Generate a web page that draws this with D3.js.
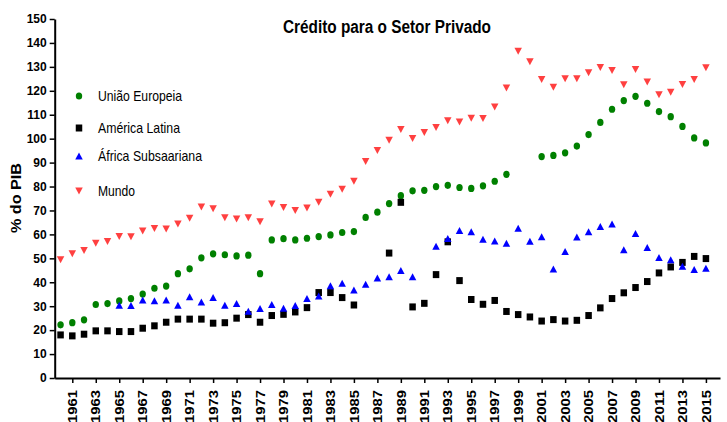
<!DOCTYPE html>
<html>
<head>
<meta charset="utf-8">
<script src="https://cdn.jsdelivr.net/npm/d3@7"></script>
<style>
  body { margin: 0; background: #fff; }
  svg { display: block; }
  .tick text { font-family: "Liberation Sans", Arial, sans-serif; font-weight: bold; fill: #000; }
  .narrow { font-family: "Liberation Sans Narrow", "Arial Narrow", "Liberation Sans", sans-serif; }
</style>
</head>
<body>
<div id="chart"></div>
<script>
//--------------------------------- Data ---------------------------------
// anos 1960..2015, null = sem dado
var years = d3.range(1960, 2016);

var uniaoEuropeia = [
	22.2, 23.1, 24.3, 30.7, 31.1, 32.2, 33.2, 35.1, 37.5, 38.4,
	43.6, 45.6, 50.2, 51.9, 51.5, 51.0, 51.3, 43.6, 57.7, 58.2,
	57.7, 58.4, 59.1, 59.8, 60.8, 61.2, 67.1, 69.3, 72.9, 76.2,
	78.2, 78.4, 80.0, 80.5, 79.6, 79.2, 80.3, 82.2, 85.1, null,
	null, 92.5, 93.0, 94.1, 96.9, 101.7, 106.8, 112.3, 115.9, 117.7,
	114.8, 111.3, 109.2, 105.1, 100.3, 98.2
];
var americaLatina = [
	18.0, 17.6, 18.3, 19.7, 19.7, 19.4, 19.4, 20.8, 21.8, 23.3,
	24.6, 24.6, 24.6, 22.9, 23.1, 25.0, 26.5, 23.3, 26.1, 26.6,
	27.6, 29.4, 35.7, 35.7, 33.6, 30.5, null, null, 52.2, 73.4,
	29.7, 31.2, 43.2, 56.9, 40.7, 32.8, 30.8, 32.4, 27.8, 26.5,
	25.5, 23.8, 24.4, 23.8, 24.1, 26.1, 29.3, 33.2, 35.6, 37.8,
	40.3, 43.9, 46.4, 48.3, 50.8, 49.9
];
var africaSubsaariana = [
	null, null, null, null, null, 30.4, 30.3, 32.6, 32.3, 32.6,
	30.4, 34.0, 31.8, 33.6, 30.4, 31.1, 27.9, 29.0, 30.7, 29.1,
	30.3, 33.2, 34.3, 38.5, 39.6, 36.8, 39.2, 41.8, 42.3, 44.9,
	42.3, null, 55.1, 58.3, 61.6, 61.1, 58.0, 57.2, 56.3, 62.6,
	57.1, 59.0, 45.5, 52.9, 58.9, 61.1, 63.3, 64.3, 53.6, 60.4,
	54.5, 50.3, 49.4, 46.7, 45.3, 45.9
];
var mundo = [
	49.4, 51.9, 53.3, 56.3, 57.0, 59.1, 59.0, 61.4, 62.5, 62.3,
	64.3, 66.8, 71.4, 70.7, 67.0, 66.4, 67.0, 65.3, 72.7, 71.2,
	70.0, 71.0, 73.4, 76.8, 78.9, 82.2, 90.5, 95.1, 99.3, 103.8,
	100.1, 102.6, 104.7, 107.5, 107.0, 108.5, 108.4, 113.2, 121.2, 136.5,
	132.1, 124.7, 121.5, 125.0, 125.0, 127.5, 129.7, 128.5, 122.5, 128.9,
	123.7, 118.4, 119.4, 122.6, 124.7, 129.6
];

var seriesNames = ["União Europeia", "América Latina", "África Subsaariana", "Mundo"];
var seriesValues = [uniaoEuropeia, americaLatina, africaSubsaariana, mundo];
var yTicks = d3.range(0, 151, 10);
var xTicks = d3.range(1961, 2016, 2);

//--------------------------------- Setup ---------------------------------
var width = 727, height = 422;

var svg = d3.select("#chart")
	.append("svg")
	.attr("width", width)
	.attr("height", height);

var x = d3.scaleLinear()
	.domain([1959.5, 2016.2])
	.range([54.7, 720]);

var y = d3.scaleLinear()
	.domain([0, 150])
	.range([378, 19]);

// estilos de marcador por série
var styles = [
	{ shape: "circle",   color: "#008000" },
	{ shape: "square",   color: "#000000" },
	{ shape: "triUp",    color: "#0000ff" },
	{ shape: "triDown",  color: "#ff4040" }
];

function markerPath(shape) {
	var w = 6.5, h = 7;
	if (shape === "square") return "M" + (-w/2) + "," + (-h/2) + "h" + w + "v" + h + "h" + (-w) + "Z";
	if (shape === "triUp") return "M0," + (-h/2) + "L" + (w/2 + 0.5) + "," + (h/2) + "L" + (-w/2 - 0.5) + "," + (h/2) + "Z";
	if (shape === "triDown") return "M0," + (h/2) + "L" + (w/2 + 0.5) + "," + (-h/2) + "L" + (-w/2 - 0.5) + "," + (-h/2) + "Z";
	return null;
}

function drawMarker(sel, st) {
	if (st.shape === "circle") {
		sel.append("ellipse").attr("rx", 3.2).attr("ry", 3.6).attr("fill", st.color);
	} else {
		sel.append("path").attr("d", markerPath(st.shape)).attr("fill", st.color);
	}
}

//--------------------------------- Axes ---------------------------------
var yAxis = svg.append("g")
	.attr("transform", "translate(" + x(1959.5) + ",0)")
	.call(d3.axisLeft(y).tickValues(yTicks).tickSize(5).tickSizeOuter(0).tickPadding(3));
yAxis.selectAll(".tick text").style("font-size", "12px");

var xAxis = svg.append("g")
	.attr("transform", "translate(0," + y(0) + ")")
	.call(d3.axisBottom(x).tickValues(xTicks).tickSize(5).tickSizeOuter(0).tickFormat(d3.format("d")));
// rótulos esticados no comprimento, como no original
xAxis.selectAll(".tick text")
	.style("font-size", "12px")
	.attr("text-anchor", "end")
	.attr("transform", "rotate(-90)")
	.attr("x", -12)
	.attr("y", 0)
	.attr("dy", "0.35em")
	.attr("textLength", 33)
	.attr("lengthAdjust", "spacingAndGlyphs");

svg.selectAll(".domain").attr("stroke", "#000").attr("stroke-width", 2);
svg.selectAll(".tick line").attr("stroke", "#000").attr("stroke-width", 1.5);

//--------------------------------- Titles ---------------------------------
svg.append("text")
	.attr("class", "narrow")
	.attr("x", 283)
	.attr("y", 33)
	.attr("textLength", 208)
	.attr("lengthAdjust", "spacingAndGlyphs")
	.style("font-size", "18px")
	.style("font-weight", "bold")
	.text("Crédito para o Setor Privado");

svg.append("text")
	.attr("transform", "translate(21,233) rotate(-90)")
	.attr("textLength", 70)
	.attr("lengthAdjust", "spacingAndGlyphs")
	.style("font-family", "'Liberation Sans', Arial, sans-serif")
	.style("font-size", "14px")
	.style("font-weight", "bold")
	.text("% do PIB");

//--------------------------------- Points ---------------------------------
seriesValues.forEach(function(vals, si) {
	var pts = years.map(function(yr, i) { return { year: yr, value: vals[i] }; })
		.filter(function(d) { return d.value != null; });
	var g = svg.append("g").attr("class", "series-" + si);
	g.selectAll("g")
		.data(pts)
		.enter().append("g")
		.attr("transform", function(d) { return "translate(" + x(d.year) + "," + y(d.value) + ")"; })
		.each(function() { drawMarker(d3.select(this), styles[si]); });
});

//--------------------------------- Legend ---------------------------------
var legendY = [96, 128, 156, 191];
var legendW = [84, 82, 104, 37];
var legend = svg.append("g").attr("class", "legend");
seriesNames.forEach(function(name, i) {
	var item = legend.append("g").attr("transform", "translate(79," + legendY[i] + ")");
	drawMarker(item, styles[i]);
	item.append("text")
		.attr("class", "narrow")
		.attr("x", 19)
		.attr("dy", "0.35em")
		.attr("textLength", legendW[i])
		.attr("lengthAdjust", "spacingAndGlyphs")
		.style("font-size", "15px")
		.text(name);
});
</script>
</body>
</html>
